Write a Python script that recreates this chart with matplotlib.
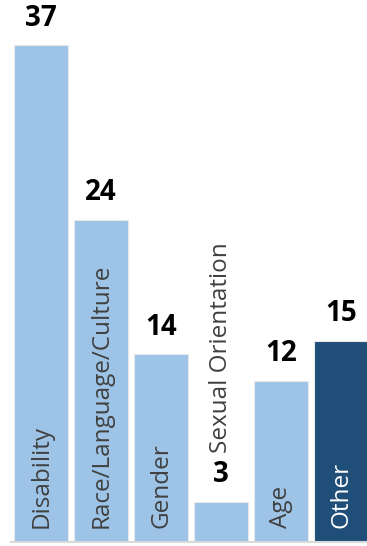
import matplotlib
matplotlib.use("Agg")
import matplotlib.pyplot as plt

categories = ["Disability", "Race/Language/Culture", "Gender", "Sexual Orientation", "Age", "Other"]
values = [37, 24, 14, 3, 12, 15]
bar_colors = ["#9DC3E6", "#9DC3E6", "#9DC3E6", "#9DC3E6", "#9DC3E6", "#1F4E79"]
label_colors = ["#404040", "#404040", "#404040", "#404040", "#404040", "#FFFFFF"]

W, H = 367, 546
fig = plt.figure(figsize=(W / 100, H / 100), dpi=100)
ax = fig.add_axes([11 / W, 4 / H, 1 - 11 / W, (H - 4) / H])

x = list(range(len(categories)))
ax.bar(x, values, width=0.9, color=bar_colors, edgecolor="#E8E8E8", linewidth=0.8, zorder=2)

ax.set_xlim(-0.503, 5.43)
ax.set_ylim(0, 40.35)
for s in ["top", "right", "left"]:
    ax.spines[s].set_visible(False)
ax.spines["bottom"].set_color("#D9D9D9")
ax.spines["bottom"].set_linewidth(1.5)
ax.set_xticks([])
ax.set_yticks([])

for i, (v, c) in enumerate(zip(values, label_colors)):
    ax.annotate(str(v), (i, v), xytext=(0, 14), textcoords="offset points",
                ha="center", va="baseline", fontsize=20, fontweight="bold",
                family="Open Sans", color="black", clip_on=False)
    if v < 5:
        ax.annotate(categories[i], (i, v), xytext=(0, 35), textcoords="offset points",
                    ha="center", va="bottom", rotation=90, fontsize=17.5,
                    family="Open Sans", color=c)
    else:
        ax.annotate(categories[i], (i, 0), xytext=(0, 10), textcoords="offset points",
                    ha="center", va="bottom", rotation=90, fontsize=17.5,
                    family="Open Sans", color=c)

fig.savefig("out.png", dpi=100)
